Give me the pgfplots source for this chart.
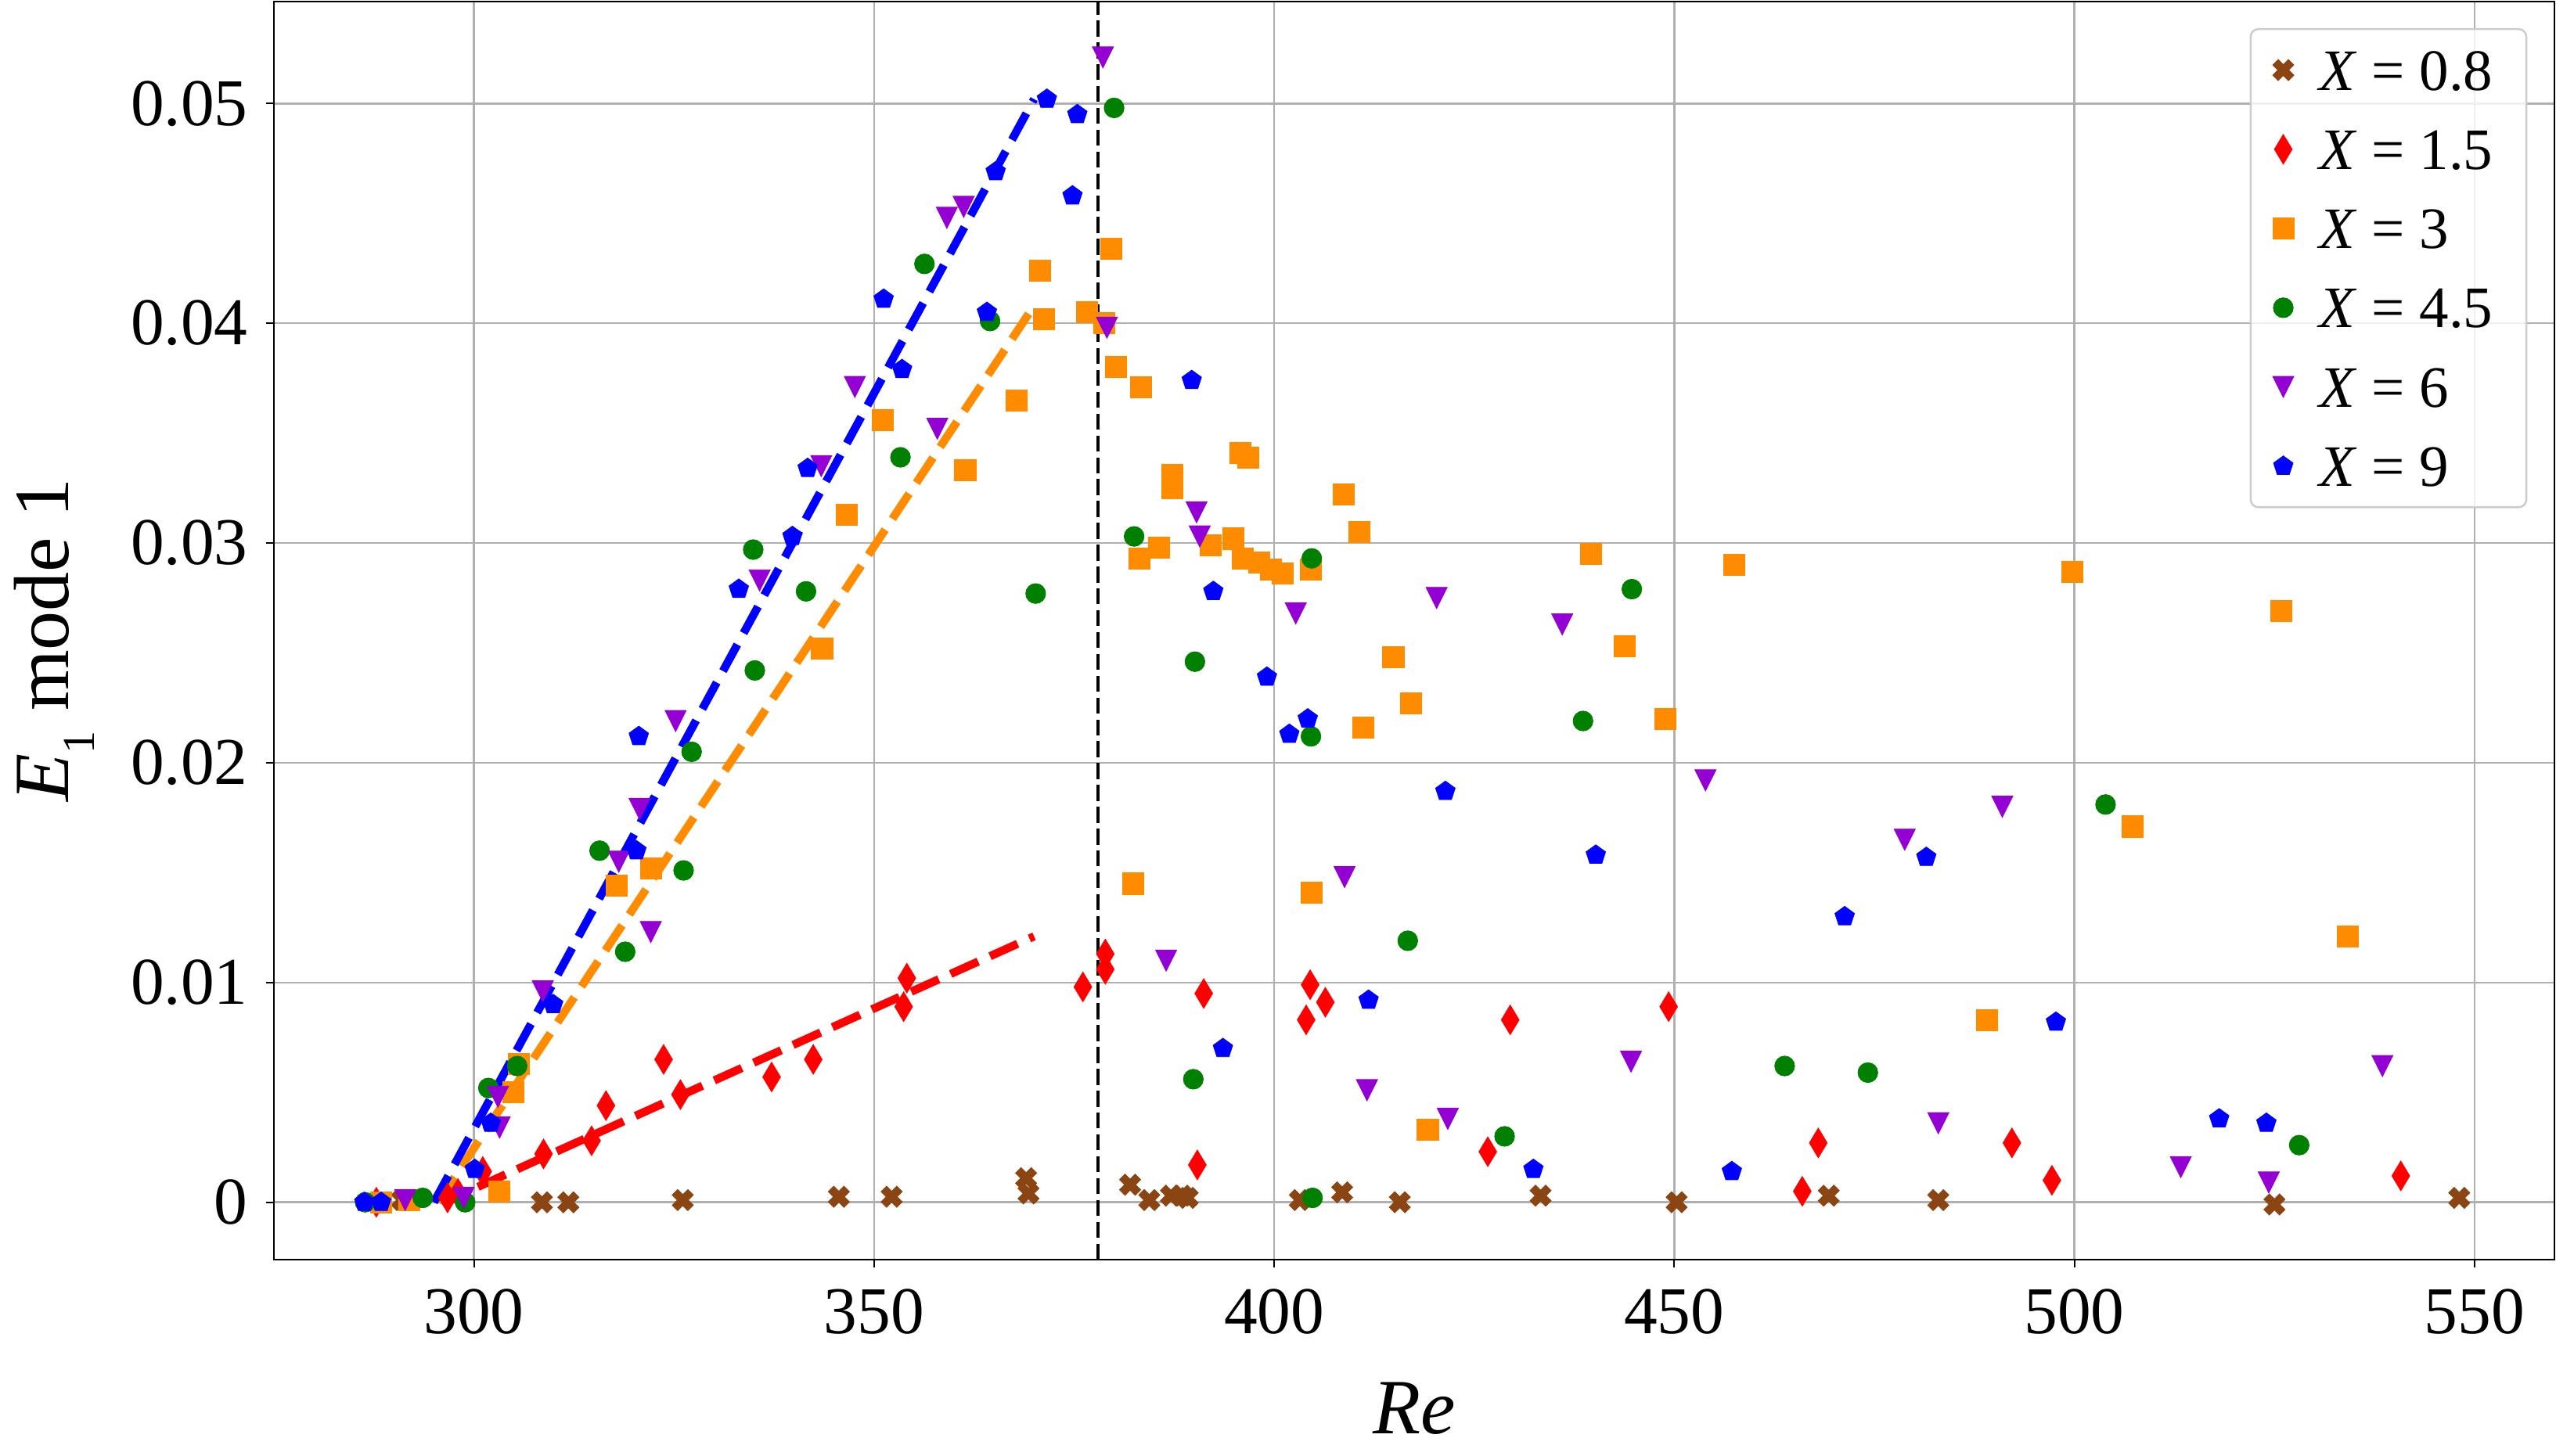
\documentclass[border=0pt]{standalone}
\usepackage{fontspec}
\setmainfont{Liberation Serif}
\usepackage{pgfplots}
\pgfplotsset{compat=1.18}

\definecolor{cbrown}{HTML}{8B4513}
\definecolor{cred}{HTML}{FF0000}
\definecolor{corange}{HTML}{FF8C00}
\definecolor{cgreen}{HTML}{008000}
\definecolor{cpurple}{HTML}{9400D3}
\definecolor{cblue}{HTML}{0000FF}
\definecolor{gridgray}{HTML}{B0B0B0}
\definecolor{leggray}{HTML}{CCCCCC}

% filled cross, drawn as a plus and turned by 45 degrees
\pgfdeclareplotmark{Xfill}{%
  \pgfpathmoveto{\pgfqpoint{0.35\pgfplotmarksize}{\pgfplotmarksize}}%
  \pgfpathlineto{\pgfqpoint{0.35\pgfplotmarksize}{0.35\pgfplotmarksize}}%
  \pgfpathlineto{\pgfqpoint{\pgfplotmarksize}{0.35\pgfplotmarksize}}%
  \pgfpathlineto{\pgfqpoint{\pgfplotmarksize}{-0.35\pgfplotmarksize}}%
  \pgfpathlineto{\pgfqpoint{0.35\pgfplotmarksize}{-0.35\pgfplotmarksize}}%
  \pgfpathlineto{\pgfqpoint{0.35\pgfplotmarksize}{-\pgfplotmarksize}}%
  \pgfpathlineto{\pgfqpoint{-0.35\pgfplotmarksize}{-\pgfplotmarksize}}%
  \pgfpathlineto{\pgfqpoint{-0.35\pgfplotmarksize}{-0.35\pgfplotmarksize}}%
  \pgfpathlineto{\pgfqpoint{-\pgfplotmarksize}{-0.35\pgfplotmarksize}}%
  \pgfpathlineto{\pgfqpoint{-\pgfplotmarksize}{0.35\pgfplotmarksize}}%
  \pgfpathlineto{\pgfqpoint{-0.35\pgfplotmarksize}{0.35\pgfplotmarksize}}%
  \pgfpathlineto{\pgfqpoint{-0.35\pgfplotmarksize}{\pgfplotmarksize}}%
  \pgfpathclose
  \pgfusepathqfillstroke
}
\pgfdeclareplotmark{tridown}{%
  \pgfpathmoveto{\pgfqpoint{0pt}{-\pgfplotmarksize}}%
  \pgfpathlineto{\pgfqpoint{-\pgfplotmarksize}{\pgfplotmarksize}}%
  \pgfpathlineto{\pgfqpoint{\pgfplotmarksize}{\pgfplotmarksize}}%
  \pgfpathclose
  \pgfusepathqfillstroke
}
\pgfdeclareplotmark{thindiamond}{%
  \pgfpathmoveto{\pgfqpoint{0pt}{\pgfplotmarksize}}%
  \pgfpathlineto{\pgfqpoint{0.6\pgfplotmarksize}{0pt}}%
  \pgfpathlineto{\pgfqpoint{0pt}{-\pgfplotmarksize}}%
  \pgfpathlineto{\pgfqpoint{-0.6\pgfplotmarksize}{0pt}}%
  \pgfpathclose
  \pgfusepathqfillstroke
}

\pgfplotsset{
  scat/.style={only marks,
    legend image code/.code={%
      \path[draw=none, fill=none] (-4pt,-5pt) rectangle (4pt,5pt);
      \draw[##1, sharp corners, fill opacity=1, draw opacity=1] plot coordinates {(0pt,0pt)};}},
  fitline/.style={forget plot, line width=2.5pt, dash pattern=on 9.25pt off 4pt},
}

\begin{document}
\begin{tikzpicture}
\begin{axis}[
  name=ax,
  scale only axis, width=699.36pt, height=385.99pt,
  xmin=275, xmax=560, ymin=-0.00261, ymax=0.05465,
  xtick={300,350,400,450,500,550}, xticklabels={300,350,400,450,500,550},
  ytick={0,0.01,0.02,0.03,0.04,0.05}, yticklabels={0,0.01,0.02,0.03,0.04,0.05},
  tick pos=left, tick align=outside, major tick length=2.5pt,
  every tick/.style={black, line width=0.5pt},
  axis line style={line width=0.5pt},
  grid=major, major grid style={gridgray, line width=0.6pt},
  tick label style={font=\fontsize{20.5}{24}\selectfont, inner sep=0pt},
  xticklabel style={anchor=north, yshift=-6.4pt},
  yticklabel style={anchor=east, xshift=-5.3pt},
  every axis x label/.style={at={(axis description cs:0.5,0)}, anchor=north,
    yshift=-37.4pt, inner sep=0pt, font=\fontsize{24}{28}\selectfont},
  every axis y label/.style={at={(axis description cs:-0.11428,0.4925)}, rotate=90,
    anchor=north, inner sep=0pt, font=\fontsize{24}{28}\selectfont},
  xlabel={\textit{Re}},
  ylabel={\textit{E}\raisebox{-7.9pt}{\fontsize{14}{14}\selectfont 1} mode 1},
  legend cell align=left,
  legend style={at={(1,1)}, anchor=north east, xshift=-8.33pt, yshift=-8.2pt,
    draw=leggray, line width=0.6pt, rounded corners=2.4pt,
    fill=white, fill opacity=0.8, draw opacity=1, text opacity=1,
    inner xsep=6pt, inner ysep=6.5pt, row sep=12.1pt, column sep=2.9pt,
    font=\fontsize{18}{21.6}\selectfont,
    nodes={inner xsep=4.2pt, inner ysep=0pt, text height=12.2pt, text depth=0pt}},
]

% X = 0.8
\addplot[scat, mark=Xfill, mark size=3.4pt,
  mark options={rotate=45, draw=cbrown, fill=cbrown, line width=0.2pt, solid}]
coordinates {
 (291,0.0001) (308.5,0) (311.8,0) (326.1,0.0001) (345.6,0.00025) (352.2,0.00025)
 (369,0.0011) (369.3,0.0004) (382,0.0008) (384.4,0.0001) (387.1,0.0003)
 (388.5,0.0003) (389.2,0.0002) (403.2,0.0001) (408.5,0.00045) (415.7,0)
 (433.3,0.0003) (450.3,0) (469.3,0.0003) (483,0.0001) (525,-0.0001) (548.1,0.0002)
};
% X = 1.5
\addplot[scat, mark=thindiamond, mark size=4.55pt,
  mark options={draw=cred, fill=cred, line width=0.2pt, solid}]
coordinates {
 (287.8,0) (296.7,0.0002) (298,0.0004) (301.1,0.0014) (308.7,0.0022) (314.7,0.0028)
 (316.5,0.0044) (323.7,0.0065) (325.8,0.0049) (337.2,0.0057) (342.4,0.0065)
 (353.7,0.0089) (354.1,0.0102) (376.1,0.0098) (378.9,0.0113) (378.9,0.0106)
 (390.4,0.0017) (391.2,0.0095) (404,0.0083) (404.5,0.0099) (406.4,0.0091)
 (426.7,0.0023) (429.5,0.0083) (449.3,0.0089) (466,0.0005) (468,0.0027)
 (492.2,0.0027) (497.2,0.001) (540.8,0.0012)
};
% X = 3
\addplot[scat, mark=square*, mark size=3.25pt,
  mark options={draw=corange, fill=corange, line width=0.2pt, solid}]
coordinates {
 (288.4,0) (291.9,0.0001) (303.2,0.0005) (304.9,0.005) (305.6,0.0063) (317.8,0.0144)
 (322.1,0.0152) (343.5,0.0252) (346.6,0.0313) (351.1,0.0356) (361.4,0.0333)
 (367.8,0.0365) (370.7,0.0424) (371.2,0.0402) (376.6,0.0405) (378.8,0.0400)
 (379.6,0.0434) (380.2,0.038) (382.4,0.0145) (383.2,0.0293) (383.4,0.0371)
 (385.6,0.0298) (387.3,0.0331) (387.3,0.0325) (392.1,0.0299) (394.9,0.0302)
 (395.8,0.0341) (396.1,0.0293) (396.8,0.0339) (398.1,0.0291) (399.6,0.0288)
 (401.1,0.0286) (404.6,0.0288) (404.7,0.0141) (408.7,0.0322) (410.6,0.0305)
 (411.1,0.0216) (414.9,0.0248) (417.1,0.0227) (419.2,0.0033) (439.6,0.0295)
 (443.8,0.0253) (448.9,0.022) (457.5,0.029) (489.1,0.0083) (499.7,0.0287)
 (507.3,0.0171) (525.9,0.0269) (534.2,0.0121)
};
% X = 4.5
\addplot[scat, mark=*, mark size=3.05pt,
  mark options={draw=cgreen, fill=cgreen, line width=0.2pt, solid}]
coordinates {
 (286.4,0) (293.6,0.0002) (298.9,0) (301.8,0.0052) (305.4,0.0062) (315.7,0.016)
 (318.9,0.0114) (326.2,0.0151) (327.2,0.0205) (334.9,0.0297) (335.1,0.0242)
 (341.5,0.0278) (353.3,0.0339) (356.3,0.0427) (364.5,0.0401) (370.2,0.0277)
 (380,0.0498) (382.5,0.0303) (390.1,0.0246) (389.9,0.0056) (404.7,0.0293)
 (404.6,0.0212) (404.8,0.0002) (416.7,0.0119) (428.8,0.003) (438.6,0.0219)
 (444.7,0.0279) (463.8,0.0062) (474.2,0.0059) (503.9,0.0181) (528.1,0.0026)
};
% X = 6
\addplot[scat, mark=tridown, mark size=3.25pt,
  mark options={draw=cpurple, fill=cpurple, line width=0.2pt, solid}]
coordinates {
 (291.4,0.0001) (298.7,0.0002) (303,0.0048) (303.2,0.0034) (308.6,0.0096)
 (318.1,0.0155) (320.7,0.0179) (322.1,0.0123) (325.2,0.0219) (335.7,0.0283)
 (343.4,0.0335) (347.6,0.0371) (357.9,0.0352) (359.1,0.0448) (361.2,0.0453)
 (378.6,0.0521) (379.1,0.0398) (386.5,0.011) (390.3,0.0314) (390.7,0.0303)
 (402.7,0.0268) (408.8,0.0148) (411.6,0.0051) (420.3,0.0275) (421.7,0.0038)
 (436,0.0263) (444.6,0.0064) (453.9,0.0192) (478.8,0.0165) (483,0.0036)
 (491,0.018) (513.3,0.0016) (524.3,0.0009) (538.5,0.0062)
};
% X = 9
\addplot[scat, mark=pentagon*, mark size=3.15pt,
  mark options={draw=cblue, fill=cblue, line width=0.2pt, solid}]
coordinates {
 (286.3,0) (288.4,0) (300.1,0.0015) (302.1,0.0036) (309.9,0.009) (320.3,0.016)
 (320.6,0.0212) (333.1,0.0279) (339.8,0.0303) (341.7,0.0334) (351.2,0.0411)
 (353.5,0.0379) (364.1,0.0405) (365.2,0.0469) (371.6,0.0502) (374.8,0.0458)
 (375.4,0.0495) (389.7,0.0374) (392.4,0.0278) (393.6,0.007) (399.1,0.0239)
 (401.9,0.0213) (404.2,0.022) (411.8,0.0092) (421.4,0.0187) (432.4,0.0015)
 (440.2,0.0158) (457.2,0.0014) (471.3,0.013) (481.5,0.0157) (497.7,0.0082)
 (518.1,0.0038) (524,0.0036)
};

% linear fits of the growth phase
\addplot[fitline, cred] coordinates {(300.5,0.0007) (370,0.0121)};
\addplot[fitline, corange] coordinates {(295.5,0) (370,0.0408)};
\addplot[fitline, cblue] coordinates {(295,0) (370,0.0502)};

% threshold
\addplot[forget plot, black, line width=1.1pt, dash pattern=on 4.9pt off 1.8pt]
  coordinates {(378,-0.00261) (378,0.05465)};

\legend{\textit{X} = 0.8, \textit{X} = 1.5, \textit{X} = 3, \textit{X} = 4.5, \textit{X} = 6, \textit{X} = 9}
\end{axis}
\pgfresetboundingbox
\path[use as bounding box] ([xshift=-84pt,yshift=-60.24pt]ax.south west)
  rectangle ([xshift=0.48pt,yshift=0.41pt]ax.north east);
\end{tikzpicture}
\end{document}
